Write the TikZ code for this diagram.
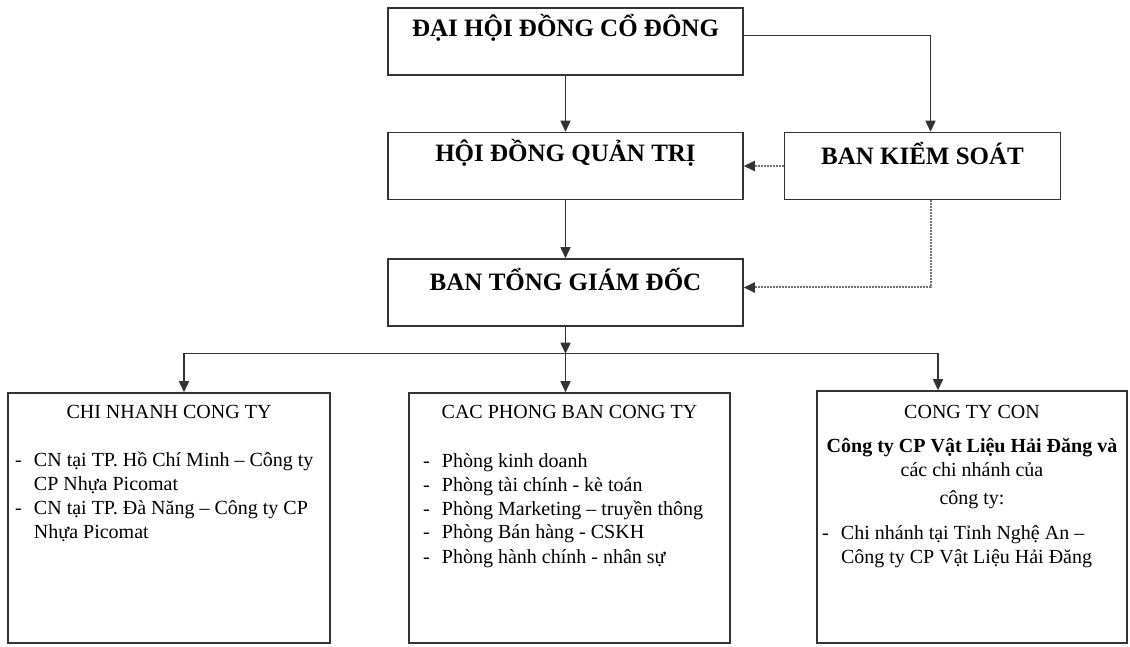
\documentclass[tikz,border=0pt]{standalone}
\usepackage{fontspec}
\setmainfont{Liberation Serif}
\usepackage{tikz}
\usetikzlibrary{arrows.meta, positioning}
\tikzset{
    headbox/.style={rectangle, draw=black!80, line width=1.5pt, fill=white, text centered, font=\fontsize{25}{29}\selectfont\bfseries, minimum height=67pt, inner ysep=0pt, text height=17pt},
    lowbox/.style={rectangle, draw=black!80, line width=1.5pt, fill=white, inner ysep=10pt, font=\fontsize{20}{24}\selectfont},
    arrow/.style={line width=1.5pt, -{Triangle[length=11pt,width=10pt]}, color=black!80},
    ctrlarrow/.style={line width=2pt, densely dotted, draw=black!55, -{Triangle[length=11pt,width=10pt,color=black!80]}},
    line/.style={line width=1.5pt, color=black!60}
}
\newcommand{\dashitem}[1]{\par\noindent\hangindent=19pt\hangafter=1\makebox[19pt][l]{-}#1\par}

\begin{document}
\begin{tikzpicture}[x=1pt, y=1pt]
    \useasboundingbox (0,0) rectangle (1130,646);

    \node (dhdcd) [headbox, minimum width=355pt, text depth=26pt] at (565.5,604.5) {ĐẠI HỘI ĐỒNG CỔ ĐÔNG};
    \node (hdqt) [headbox, minimum width=355pt, text depth=26pt, below=56pt of dhdcd] {HỘI ĐỒNG QUẢN TRỊ};
    \node (bgd) [headbox, minimum width=355pt, text depth=20pt, below=58pt of hdqt] {BAN TỔNG GIÁM ĐỐC};
    \node (bks) [headbox, minimum width=276pt, text depth=20pt, right=40pt of hdqt] {BAN KIỂM SOÁT};

    \node (chinhanh) [lowbox, inner xsep=7pt] at (169,128) {\parbox[c][230pt][t]{308pt}{\raggedright
        {\centering\rule{0pt}{15pt}CHI NHANH CONG TY\par}
        \vspace{24pt}
        \dashitem{CN tại TP. Hồ Chí Minh – Công ty\newline CP Nhựa Picomat}
        \dashitem{CN tại TP. Đà Năng – Công ty CP\newline Nhựa Picomat}}};
    \node (phongban) [lowbox, inner xsep=14pt] at (569.5,128) {\parbox[c][230pt][t]{293pt}{\raggedright
        {\centering\rule{0pt}{15pt}CAC PHONG BAN CONG TY\par}
        \vspace{25pt}
        \dashitem{Phòng kinh doanh}
        \dashitem{Phòng tài chính - kè toán}
        \dashitem{Phòng Marketing – truyền thông}
        \dashitem{Phòng Bán hàng - CSKH}
        \dashitem{Phòng hành chính - nhân sự}}};
    \node (congtycon) [lowbox, inner xsep=5pt, inner ysep=12pt] at (972,129) {\parbox[c][228pt][t]{300pt}{\raggedright
        {\centering\rule{0pt}{15pt}CONG TY CON\par}
        \vspace{10pt}
        {\centering\textbf{Công ty CP Vật Liệu Hải Đăng và}\\ các chi nhánh của\par}
        \vspace{4pt}
        {\centering công ty:\par}
        \vspace{11pt}
        \dashitem{Chi nhánh tại Tỉnh Nghệ An –\newline Công ty CP Vật Liệu Hải Đăng}}};

    \coordinate [below=27pt of bgd.south] (branch);

    \draw [arrow] (dhdcd) -- (hdqt);
    \draw [arrow] (hdqt) -- (bgd);
    \draw [arrow] ([yshift=6pt]dhdcd.east) -| ([xshift=8pt]bks.north);
    \draw [ctrlarrow] (bks.west) -- (hdqt.east);
    \draw [ctrlarrow] ([xshift=8pt]bks.south) |- ([yshift=5pt]bgd.east);

    \draw [line] ([xshift=15pt]chinhanh.north |- branch) -- ([xshift=-34pt]congtycon.north |- branch);
    \draw [arrow] (bgd.south) -- (branch);
    \draw [arrow] (branch) -| ([xshift=15pt]chinhanh.north);
    \draw [arrow] (branch) -- (branch |- phongban.north);
    \draw [arrow] (branch) -| ([xshift=-34pt]congtycon.north);
\end{tikzpicture}
\end{document}
